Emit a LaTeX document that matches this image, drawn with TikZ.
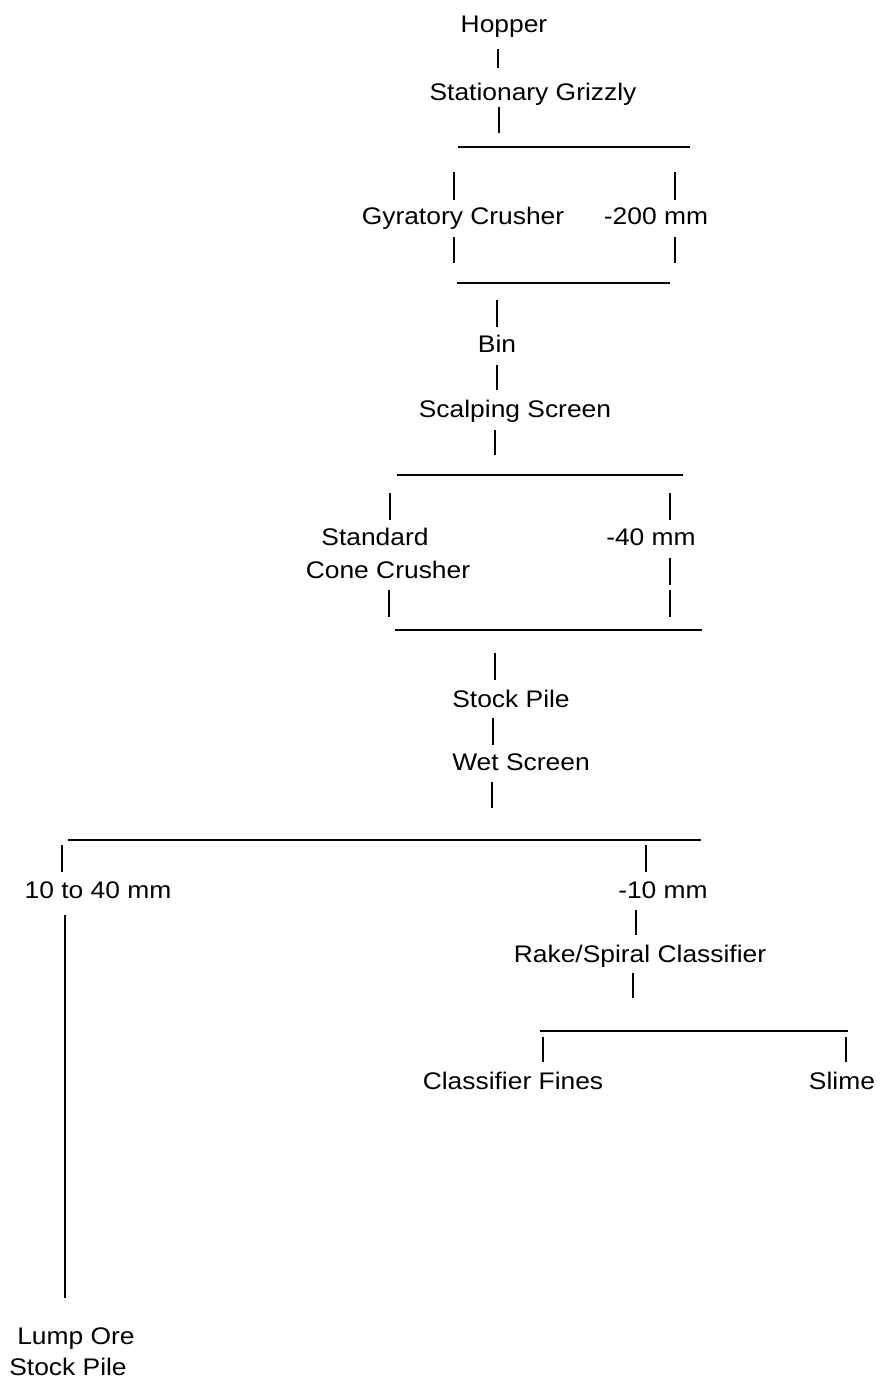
\documentclass[tikz,border=0pt]{standalone}
\usepackage{fontspec}
\setmainfont{Liberation Sans}[FakeStretch=1.1]
\begin{document}
\begin{tikzpicture}[x=0.5pt,y=-0.5pt,
  lbl/.style={anchor=base,inner sep=0pt,font=\fontsize{12}{14}\selectfont},
  tick/.style={line width=0.9pt},
  bar/.style={line width=1.3pt}]
\useasboundingbox (0,0) rectangle (880,1378);
% 流程文字
\node[lbl] (hopper)   at (504,32)   {Hopper};
\node[lbl] (grizzly)  at (533,100)  {Stationary Grizzly};
\node[lbl] (gyratory) at (463,224)  {Gyratory Crusher};
\node[lbl] (minus200) at (656,224)  {-200 mm};
\node[lbl] (bin)      at (497,352)  {Bin};
\node[lbl] (scalping) at (515,417)  {Scalping Screen};
\node[lbl] (standard) at (375,545)  {Standard};
\node[lbl] (cone)     at (388,578)  {Cone Crusher};
\node[lbl] (minus40)  at (651,545)  {-40 mm};
\node[lbl] (stock)    at (511,707)  {Stock Pile};
\node[lbl] (wet)      at (521,770)  {Wet Screen};
\node[lbl] (lumpsize) at (98,898)   {10 to 40 mm};
\node[lbl] (minus10)  at (663,898)  {-10 mm};
\node[lbl] (rake)     at (640,962)  {Rake/Spiral Classifier};
\node[lbl] (fines)    at (513,1089) {Classifier Fines};
\node[lbl] (slime)    at (842,1089) {Slime};
\node[lbl] (lump)     at (76,1344)  {Lump Ore};
\node[lbl] (lumppile) at (68,1375)  {Stock Pile};
% 分流横线
\foreach \y/\a/\b in {147/458/690, 283/457/670, 475/397/683,
                      630/395/702, 840/68/701, 1031/540/848}
  \draw[bar] (\a,\y) -- (\b,\y);
% 竖向短线
\foreach \x/\a/\b in {498/49/68, 499/107/133,
                      454/172/200, 675/172/200, 454/237/263, 675/237/263,
                      497/300/327, 497/365/390, 495/430/455,
                      390/493/520, 670/493/520, 670/558/585,
                      670/590/617, 389/590/617,
                      495/653/680, 493/718/745, 492/782/808,
                      62/845/872, 646/845/872, 636/910/935, 633/973/998,
                      543/1037/1062, 846/1037/1062}
  \draw[tick] (\x,\a) -- (\x,\b);
% 块矿长线
\draw[tick] (65,915) -- (65,1298);
\end{tikzpicture}
\end{document}
